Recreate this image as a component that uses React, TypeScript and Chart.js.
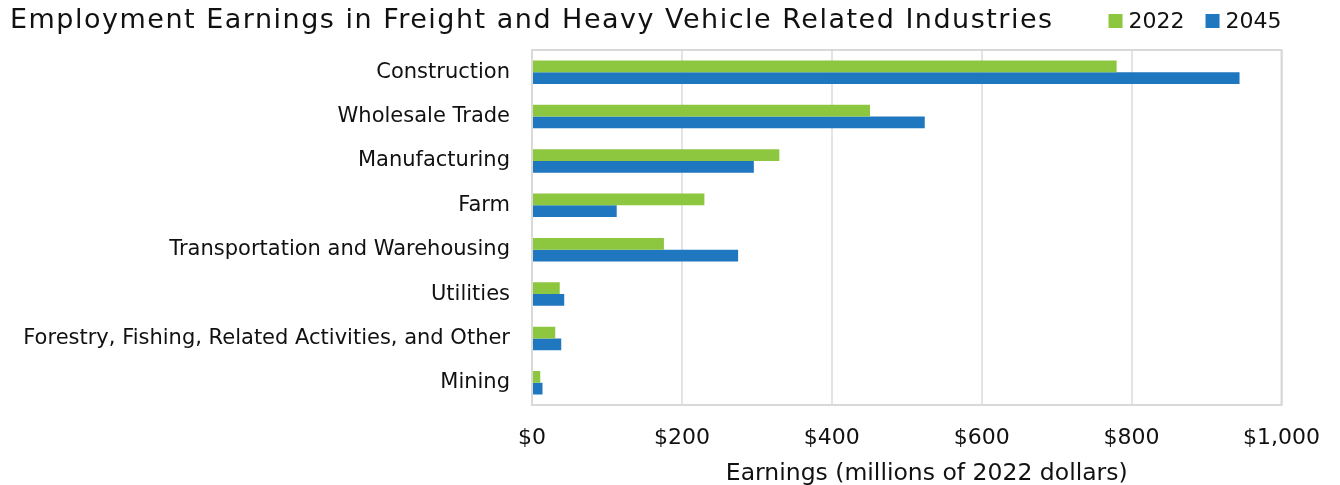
import React, { useEffect, useRef } from "react";
import { Chart, registerables } from "chart.js";

Chart.register(...registerables);

// ---- data ----
const categories: string[] = [
  "Construction",
  "Wholesale Trade",
  "Manufacturing",
  "Farm",
  "Transportation and Warehousing",
  "Utilities",
  "Forestry, Fishing, Related Activities, and Other",
  "Mining",
];
const seriesLabels: string[] = ["2022", "2045"];
const values2022: number[] = [780, 451, 330, 230, 176, 37, 31, 11];
const values2045: number[] = [944, 524, 296, 113, 275, 43, 39, 14];
const xTickValues: number[] = [0, 200, 400, 600, 800, 1000];
const chartTitle = "Employment Earnings in Freight and Heavy Vehicle Related Industries";
const xAxisTitle = "Earnings (millions of 2022 dollars)";

// ---- styles ----
const FONT = "'DejaVu Sans', sans-serif";
const TEXT = "#111111";
const GREEN = "#8DC63F";
const BLUE = "#1F77BF";
const seriesColors = [GREEN, BLUE];

const decorPlugin = {
  id: "decor",
  beforeDatasetsDraw(chart: any) {
    const { ctx, chartArea: a } = chart;
    ctx.save();
    ctx.strokeStyle = "#D9D9D9";
    ctx.lineWidth = 2;
    ctx.strokeRect(a.left, a.top, a.right - a.left, a.bottom - a.top);
    ctx.restore();
  },
  afterDraw(chart: any) {
    const { ctx, chartArea: a } = chart;
    ctx.save();
    ctx.fillStyle = TEXT;
    ctx.textBaseline = "alphabetic";
    // title
    ctx.font = `27px ${FONT}`;
    ctx.textAlign = "left";
    (ctx as any).letterSpacing = "1.5px";
    ctx.fillText(chartTitle, 10, 28);
    (ctx as any).letterSpacing = "0px";

    // legend (right aligned to plot right)
    ctx.font = `22px ${FONT}`;
    const box = 14;
    const gapBoxText = 6;
    const gapItems = 21;
    let x = a.right;
    const items = seriesLabels.map((l, i) => ({ l, c: seriesColors[i] })).reverse();
    items.forEach((it) => {
      const w = ctx.measureText(it.l).width;
      const textX = x - w;
      ctx.fillStyle = TEXT;
      ctx.fillText(it.l, textX, 28);
      const bx = textX - gapBoxText - box;
      ctx.fillStyle = it.c;
      ctx.fillRect(bx, 14, box, box);
      x = bx - gapItems;
    });

    // x-axis title
    ctx.fillStyle = TEXT;
    ctx.font = `23.5px ${FONT}`;
    ctx.textAlign = "center";
    ctx.fillText(xAxisTitle, (a.left + a.right) / 2 + 20, 480);
    ctx.restore();
  },
};

export default function App() {
  const ref = useRef<HTMLCanvasElement | null>(null);

  useEffect(() => {
    if (!ref.current) return;
    const chart = new Chart(ref.current, {
      type: "bar",
      data: {
        labels: categories,
        datasets: [
          {
            label: seriesLabels[0],
            data: values2022,
            backgroundColor: GREEN,
            categoryPercentage: 0.53,
            barPercentage: 1.0,
          },
          {
            label: seriesLabels[1],
            data: values2045,
            backgroundColor: BLUE,
            categoryPercentage: 0.53,
            barPercentage: 1.0,
          },
        ],
      },
      options: {
        indexAxis: "y",
        responsive: false,
        animation: false,
        devicePixelRatio: 1,
        layout: { padding: { left: 10, right: 57, top: 50, bottom: 0 } },
        plugins: {
          legend: { display: false },
          title: { display: false },
          tooltip: { enabled: false },
        },
        scales: {
          x: {
            type: "linear",
            min: 0,
            max: 1000,
            afterBuildTicks(scale: any) {
              scale.ticks = xTickValues.map((v) => ({ value: v }));
            },
            afterFit(scale: any) {
              scale.height = 80;
            },
            grid: {
              color: "#E1E5EA",
              lineWidth: 2,
              drawTicks: false,
            },
            border: { display: false },
            ticks: {
              padding: 20,
              color: TEXT,
              font: { family: FONT, size: 22 },
              maxRotation: 0,
              callback: (v: any) => "$" + Number(v).toLocaleString("en-US"),
            },
          },
          y: {
            afterFit(scale: any) {
              scale.width = 522;
            },
            grid: { display: false, drawTicks: false },
            border: { display: true, color: "#D4D4D4", width: 2 },
            ticks: {
              padding: 22,
              color: TEXT,
              font: { family: FONT, size: 21 },
            },
          },
        },
      },
      plugins: [decorPlugin],
    } as any);
    return () => chart.destroy();
  }, []);

  return (
    <div style={{ position: "absolute", left: 0, top: 0, width: 1340, height: 485, background: "#fff" }}>
      <canvas ref={ref} width={1340} height={485} style={{ display: "block" }} />
    </div>
  );
}
